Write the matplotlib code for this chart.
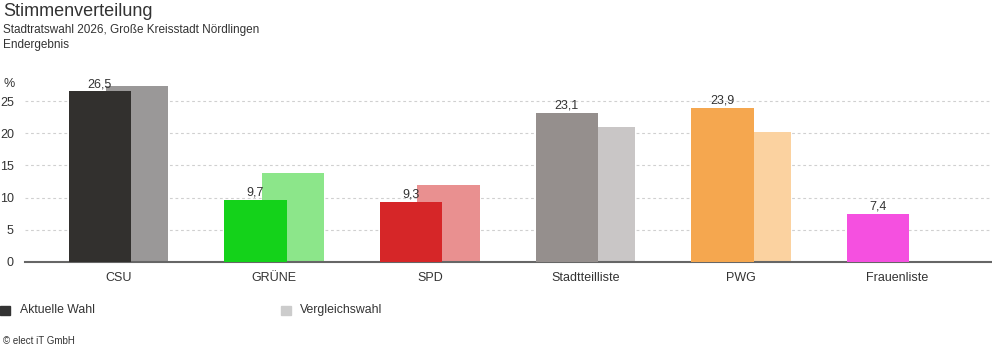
import numpy as np
import matplotlib.pyplot as plt
from matplotlib.patches import Rectangle

plt.rcParams['font.family'] = ['Liberation Sans', 'DejaVu Sans']

parties = ['CSU', 'GRÜNE', 'SPD', 'Stadtteilliste', 'PWG', 'Frauenliste']
current = [26.5, 9.7, 9.3, 23.1, 23.9, 7.4]
previous = [27.3, 13.9, 11.9, 21.0, 20.2, np.nan]
col_cur = ['#32302e', '#14d21a', '#d62628', '#958f8d', '#f5a74f', '#f550e0']
col_prev = ['#9a9898', '#8ce68a', '#e99090', '#c9c6c6', '#fbd2a0', '#ffffff']
yticks = [0, 5, 10, 15, 20, 25]

fig = plt.figure(figsize=(9.92, 3.52), dpi=100)
ax = fig.add_axes([25 / 992, 1 - 262 / 352, 1 - 25 / 992, (262 - 85) / 352])

x = np.arange(len(parties))
w = 0.40
ax.bar(x + 0.12, previous, width=w, color=col_prev, zorder=2)
ax.bar(x - 0.12, current, width=w, color=col_cur, zorder=3)

for xi, v in zip(x, current):
    ax.annotate(f'{v:.1f}'.replace('.', ','), (xi - 0.12, v), xytext=(0, 1),
                textcoords='offset points', ha='center', va='bottom',
                fontsize=9, color='#333333', zorder=4)

ax.set_xlim(-0.6, 5.61)
ax.set_ylim(0, 27.5)
ax.set_yticks(yticks)
ax.set_yticklabels([str(t) for t in yticks])
ax.set_xticks(x)
ax.set_xticklabels(parties)
ax.tick_params(axis='both', length=0, labelsize=9, colors='#333333')
ax.tick_params(axis='y', pad=8)
ax.tick_params(axis='x', pad=7)
for t in yticks[1:]:
    ax.axhline(t, color='#d0d0d0', lw=0.8, ls=(0, (2.5, 2.5)), zorder=1)
for s in ['top', 'right', 'left']:
    ax.spines[s].set_visible(False)
ax.spines['bottom'].set_color('#666666')
ax.spines['bottom'].set_linewidth(1.5)

fig.text(3 / 992, 1 - 12 / 352, 'Stimmenverteilung', fontsize=13, color='#333333', va='center')
fig.text(3 / 992, 1 - 30 / 352, 'Stadtratswahl 2026, Große Kreisstadt Nördlingen', fontsize=8.5, color='#333333', va='center')
fig.text(3 / 992, 1 - 45 / 352, 'Endergebnis', fontsize=8.5, color='#333333', va='center')
fig.text(3 / 992, 1 - 84 / 352, '%', fontsize=9, color='#333333', va='center')

fig.patches.append(Rectangle((0, 1 - 315 / 352), 10 / 992, 9 / 352, transform=fig.transFigure, color='#333333'))
fig.text(20 / 992, 1 - 310 / 352, 'Aktuelle Wahl', fontsize=8.8, color='#333333', va='center')
fig.patches.append(Rectangle((281 / 992, 1 - 315 / 352), 10 / 992, 9 / 352, transform=fig.transFigure, color='#cccccc'))
fig.text(300 / 992, 1 - 310 / 352, 'Vergleichswahl', fontsize=8.8, color='#333333', va='center')
fig.text(3 / 992, 1 - 341 / 352, '© elect iT GmbH', fontsize=7, color='#333333', va='center')

fig.savefig('out.png', dpi=100)
